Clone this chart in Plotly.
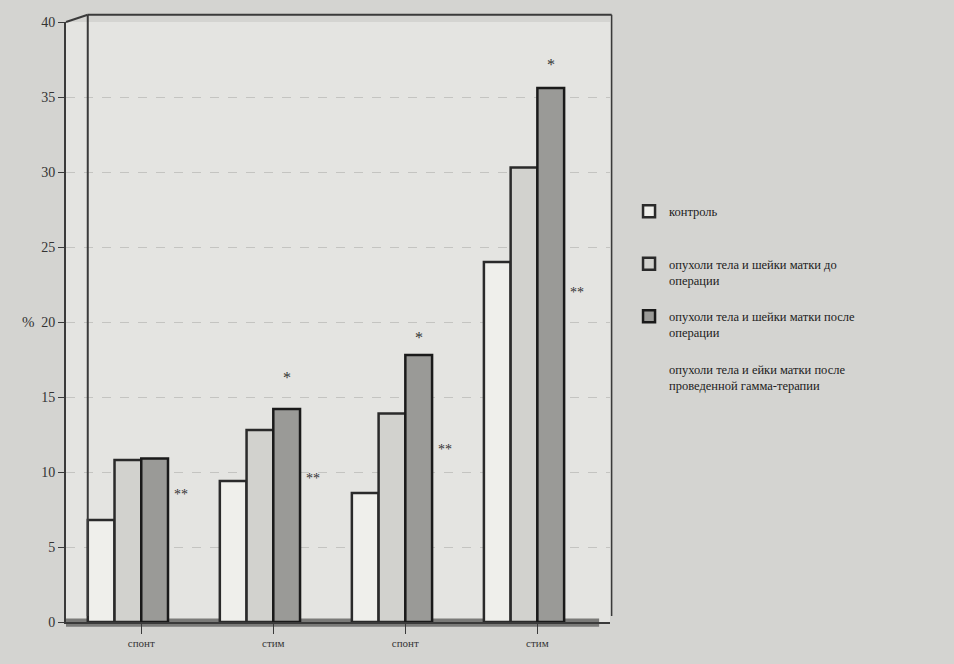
import plotly.graph_objects as go

categories = ["спонт", "стим", "спонт", "стим"]
series_names = [
    "контроль<br> ",
    "опухоли тела и шейки матки до<br>операции",
    "опухоли тела и шейки матки после<br>операции",
    "опухоли тела и ейки матки после<br>проведенной гамма-терапии",
]
control = [6.8, 9.4, 8.6, 24.0]
before_op = [10.8, 12.8, 13.9, 30.3]
after_op = [10.9, 14.2, 17.8, 35.6]
gamma = [None, None, None, None]

star_y = [None, 16.3, 19.0, 37.2]
dstar_y = [8.5, 9.6, 11.5, 22.0]

y_ticks = [0, 5, 10, 15, 20, 25, 30, 35, 40]

fills = ["#efefeb", "#d2d2ce", "#9a9a97", "rgba(0,0,0,0)"]
outline = ["#2a2a2a", "#2a2a2a", "#1a1a1a", "rgba(0,0,0,0)"]

x_idx = list(range(len(categories)))
fig = go.Figure()
for k, (name, vals) in enumerate(zip(series_names, [control, before_op, after_op, gamma])):
    fig.add_trace(go.Bar(
        x=x_idx, y=vals, name=name,
        marker=dict(color=fills[k], line=dict(color=outline[k], width=2.5 if k < 3 else 0)),
        legendgroup=f"g{k}",
    ))

bargap = 0.19
slot = (1 - bargap) / 4
ann = []
for i in x_idx:
    if star_y[i] is not None:
        ann.append(dict(x=i - (1 - bargap) / 2 + slot * 2.5, y=star_y[i], text="*",
                        showarrow=False, font=dict(size=16, color="#333", family="Liberation Serif")))
    if dstar_y[i] is not None:
        ann.append(dict(x=i - (1 - bargap) / 2 + slot * 3.5, y=dstar_y[i], text="**",
                        showarrow=False, font=dict(size=14, color="#333", family="Liberation Serif")))
ann.append(dict(xref="paper", yref="paper", x=-0.085, y=0.5, text="%", showarrow=False,
                font=dict(size=15, color="#333", family="Liberation Serif")))

shapes = [
    # back wall edges
    dict(type="line", xref="paper", yref="paper", x0=0.04, x1=0.04, y0=0.01, y1=1.012,
         line=dict(color="#3a3a3a", width=2)),
    dict(type="line", xref="paper", yref="paper", x0=0.04, x1=1.003, y0=1.012, y1=1.012,
         line=dict(color="#3a3a3a", width=2)),
    dict(type="line", xref="paper", yref="paper", x0=1.003, x1=1.003, y0=0.01, y1=1.012,
         line=dict(color="#3a3a3a", width=1.5)),
    dict(type="line", xref="paper", yref="paper", x0=0.0, x1=0.04, y0=1.0, y1=1.012,
         line=dict(color="#3a3a3a", width=2)),
    # floor band
    dict(type="rect", xref="paper", yref="paper", x0=0.0, x1=0.98, y0=-0.008, y1=0.006,
         fillcolor="#7a7a78", line=dict(width=0), layer="below"),
]

fig.update_layout(
    width=954, height=664,
    margin=dict(l=66, r=344, t=22, b=42),
    paper_bgcolor="#d4d4d1",
    plot_bgcolor="#e4e4e1",
    barmode="group", bargap=bargap, bargroupgap=0.0,
    font=dict(family="Liberation Serif", color="#333"),
    xaxis=dict(
        tickmode="array", tickvals=x_idx, ticktext=categories,
        range=[-0.57, 3.55], showgrid=False, zeroline=False,
        showline=True, linecolor="#3a3a3a", linewidth=2,
        ticks="outside", tickson="boundaries", ticklen=10, tickcolor="#3a3a3a",
        tickfont=dict(size=11, color="#333"),
    ),
    yaxis=dict(
        range=[0, 40], tickvals=y_ticks, showgrid=True,
        gridcolor="#c4c4c1", griddash="dash", gridwidth=1,
        zeroline=False, showline=True, linecolor="#3a3a3a", linewidth=2,
        ticks="outside", ticklen=6, tickcolor="#3a3a3a",
        tickfont=dict(size=14, color="#333"),
    ),
    legend=dict(
        x=1.035, y=0.709, xanchor="left", yanchor="top", valign="top",
        bgcolor="rgba(0,0,0,0)", font=dict(size=12.5, color="#222", family="Liberation Serif"),
        tracegroupgap=17, itemwidth=30,
    ),
    annotations=ann, shapes=shapes,
)

fig.write_html("out.html")
